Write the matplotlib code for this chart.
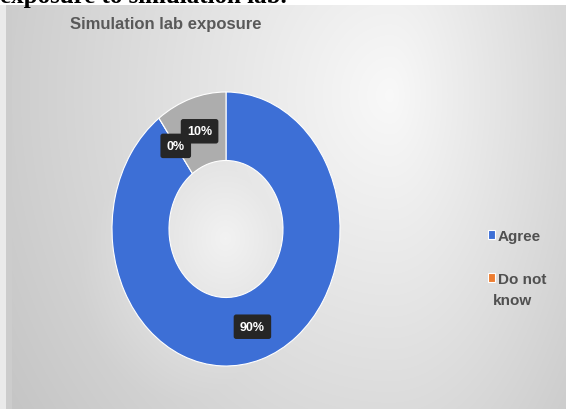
import numpy as np
import matplotlib.pyplot as plt

# data
categories = ['Agree', 'Do not know', 'Disagree']
values = [90, 0, 10]
colors = ['#3d6fd6', '#ed7d31', '#adadad']
title = 'Simulation lab exposure'
caption = 'exposure to simulation lab.'

W, H = 566, 410
fig = plt.figure(figsize=(W/100, H/100), dpi=100)
fig.patch.set_facecolor('white')

# gradient background box (chart area)
bg = fig.add_axes([0, 0, 1, 1-6/H])
bg.set_axis_off()
xx, yy = np.meshgrid(np.arange(W), np.arange(H - 6))
dx = xx - 390.0
dx = np.where(dx < 0, dx/430.0, dx/260.0)
dy = (yy - 90.0)/520.0
shade = 0.975 - 0.19*np.sqrt(dx**2 + dy**2)
# lighter spot behind the doughnut hole
dh = np.sqrt(((xx - 225.0)/70.0)**2 + ((yy - 233.0)/85.0)**2)
shade = np.maximum(shade, 0.95 - 0.06*dh)
shade[:, :6] = 0.92
shade[:, 6:12] = 0.80
bg.imshow(np.dstack([shade]*3), aspect='auto', origin='upper', interpolation='bilinear',
          extent=[0, W, H - 6, 0])
bg.set_xlim(0, W)
bg.set_ylim(H - 6, 0)

# cut off caption at the very top
fig.text(0.0, 1-3/H, caption, family='Liberation Serif', weight='bold',
         fontsize=18, va='baseline', ha='left', color='black')

fig.text(70/W, 1-25/H, title, family='Liberation Sans', weight='bold',
         fontsize=12, va='center', ha='left', color='#595959')

ax = fig.add_axes([112/W, 43/H, 228/W, 274/H])
wedges, texts, autotexts = ax.pie(values, colors=colors, startangle=90, counterclock=False,
                                  radius=1, wedgeprops=dict(width=0.5, edgecolor='white', linewidth=0.8),
                                  autopct='%d%%', pctdistance=0.75)
for t in autotexts:
    t.set_color('white')
    t.set_fontsize(9)
    t.set_fontweight('bold')
    t.set_family('Liberation Sans')
    t.set_bbox(dict(boxstyle='round,pad=0.5,rounding_size=0.2', facecolor='#262626', edgecolor='none'))
ax.set_aspect('auto')
ax.set_xlim(-1, 1)
ax.set_ylim(-1, 1)

leg = fig.legend(wedges[:2], ['Agree', 'Do not'], loc='upper left',
                 bbox_to_anchor=(474/W, 1-216/H), frameon=False, handlelength=0.5,
                 handleheight=0.5, handletextpad=0.15, labelspacing=1.9,
                 prop=dict(family='Liberation Sans', weight='bold', size=11))
for t in leg.get_texts():
    t.set_color('#505050')
fig.text(493/W, 1-301/H, 'know', family='Liberation Sans', weight='bold',
         fontsize=11, va='center', ha='left', color='#505050')

fig.savefig('out.png', dpi=100)
